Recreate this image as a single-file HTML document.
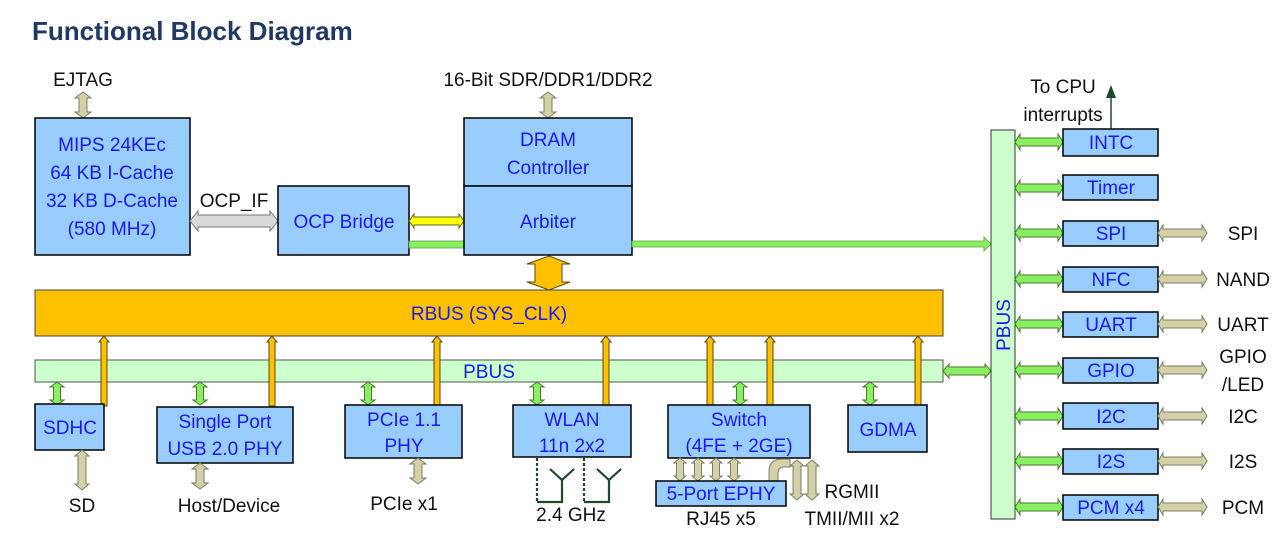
<!DOCTYPE html>
<html><head><meta charset="utf-8"><style>
html,body{margin:0;padding:0;background:#fff;}
svg{display:block;font-family:"Liberation Sans",sans-serif;}
.b{fill:#99ccff;stroke:#000;stroke-width:1.5}
.t{fill:#1a1aee;font-size:19px;text-anchor:middle}
.k{fill:#111;font-size:19px;text-anchor:middle}
.tan{fill:#d4d0a8;stroke:#7d7d66;stroke-width:1}
.grn{fill:#88f060;stroke:#4a7a30;stroke-width:1}
.org{fill:#ffc000;stroke:#5a4a10;stroke-width:1}
</style></head><body>
<svg width="1287" height="534" viewBox="0 0 1287 534" xmlns="http://www.w3.org/2000/svg">
<defs>
<polygon id="gh" class="grn" points="0,0 5,-8 5,-4 43,-4 43,-8 48,0 43,8 43,4 5,4 5,8"/>
<polygon id="th" class="tan" points="0,0 5,-8 5,-4 44,-4 44,-8 49,0 44,8 44,4 5,4 5,8"/>
<polygon id="gv" class="grn" points="0,0 -7,5 -3.5,5 -3.5,18 -7,18 0,23 7,18 3.5,18 3.5,5 7,5"/>
<polygon id="ov" class="org" points="0,0 -5,6 -3,6 -3,70 3,70 3,6 5,6"/>
<polygon id="tv" class="tan" points="0,0 -8,6 -4,6 -4,20 -8,20 0,26 8,20 4,20 4,6 8,6"/>
<polygon id="tv2" class="tan" points="0,0 -7,6 -4,6 -4,34 -7,34 0,40 7,34 4,34 4,6 7,6"/>
<polygon id="ts" class="tan" points="0,0 -6,5 -3.5,5 -3.5,18 -6,18 0,23 6,18 3.5,18 3.5,5 6,5"/>
</defs>

<text x="32" y="40" font-size="26" font-weight="bold" fill="#1f3864">Functional Block Diagram</text>

<text x="83" y="86" class="k">EJTAG</text>
<use href="#tv" x="83" y="92"/>
<text x="548" y="86" class="k">16-Bit SDR/DDR1/DDR2</text>
<use href="#tv" x="548" y="92"/>

<rect x="35" y="118" width="155" height="137" class="b"/>
<text x="112" y="151" class="t">MIPS 24KEc</text>
<text x="112" y="179" class="t">64 KB I-Cache</text>
<text x="112" y="207" class="t">32 KB D-Cache</text>
<text x="112" y="235" class="t">(580 MHz)</text>

<text x="234" y="207" class="k">OCP_IF</text>
<polygon fill="#d9d9d9" stroke="#777" points="190,221 198,211 198,215 270,215 270,211 278,221 270,231 270,227 198,227 198,231"/>

<rect x="278" y="186" width="131" height="69" class="b"/>
<text x="344" y="228" class="t">OCP Bridge</text>

<polygon fill="#ffff00" stroke="#5a6a20" points="409,221 414,214 414,217 459,217 459,214 464,221 459,228 459,225 414,225 414,228"/>
<rect x="409" y="241" width="55" height="7" fill="#88f060" stroke="#6a9a50" stroke-width="0.8"/>

<rect x="464" y="118" width="168" height="68" class="b"/>
<rect x="464" y="186" width="168" height="69" class="b"/>
<text x="548" y="146" class="t">DRAM</text>
<text x="548" y="174" class="t">Controller</text>
<text x="548" y="228" class="t">Arbiter</text>

<polygon fill="#88f060" stroke="#6a9a50" stroke-width="0.8" points="632,241 984,241 984,237 991,244 984,251 984,247 632,247"/>

<polygon class="org" points="549,256 570,264 562,264 562,282 570,282 549,290 527,282 535,282 535,264 527,264"/>

<rect x="35" y="290" width="908" height="46" fill="#ffc000" stroke="#444" stroke-width="1"/>
<text x="489" y="320" class="t">RBUS (SYS_CLK)</text>

<rect x="35" y="360" width="908" height="22" fill="#ccffcc" stroke="#555" stroke-width="1"/>
<use href="#ov" x="104" y="336"/>
<use href="#ov" x="272" y="336"/>
<use href="#ov" x="437" y="336"/>
<use href="#ov" x="606" y="336"/>
<use href="#ov" x="710" y="336"/>
<use href="#ov" x="770" y="336"/>
<use href="#ov" x="918" y="336"/>
<text x="489" y="378" class="t" font-size="18">PBUS</text>
<polygon class="grn" points="943,371 949,364 949,367 985,367 985,364 991,371 985,378 985,375 949,375 949,378"/>

<use href="#gv" x="57" y="382"/>
<use href="#gv" x="200" y="382"/>
<use href="#gv" x="368" y="382"/>
<use href="#gv" x="537" y="382"/>
<use href="#gv" x="740" y="382"/>
<use href="#gv" x="870" y="382"/>

<rect x="35" y="404" width="69" height="46" class="b"/>
<text x="70" y="434" class="t">SDHC</text>
<rect x="157" y="407" width="136" height="56" class="b"/>
<text x="225" y="428" class="t">Single Port</text>
<text x="225" y="455" class="t">USB 2.0 PHY</text>
<rect x="345" y="405" width="117" height="53" class="b"/>
<text x="404" y="426" class="t">PCIe 1.1</text>
<text x="404" y="452" class="t">PHY</text>
<rect x="513" y="405" width="118" height="52" class="b"/>
<text x="572" y="426" class="t">WLAN</text>
<text x="572" y="452" class="t">11n 2x2</text>
<rect x="668" y="405" width="142" height="53" class="b"/>
<text x="739" y="426" class="t">Switch</text>
<text x="739" y="452" class="t">(4FE + 2GE)</text>
<rect x="848" y="405" width="79" height="47" class="b"/>
<text x="888" y="436" class="t">GDMA</text>

<use href="#tv2" x="82" y="450"/>
<text x="82" y="512" class="k">SD</text>
<use href="#tv" x="200" y="463"/>
<text x="229" y="512" class="k">Host/Device</text>
<use href="#tv" x="418" y="458"/>
<text x="404" y="510" class="k">PCIe x1</text>

<g stroke="#1e4a2a" stroke-width="2.2" fill="none">
<line x1="537" y1="458" x2="537" y2="502" stroke-dasharray="3,2"/>
<polyline points="537,502 562,502 562,480"/>
<polyline points="550,469 562,480 574,469"/>
<line x1="584" y1="458" x2="584" y2="502" stroke-dasharray="3,2"/>
<polyline points="584,502 609,502 609,480"/>
<polyline points="597,469 609,480 621,469"/>
</g>
<text x="571" y="521" class="k">2.4 GHz</text>

<use href="#ts" x="680" y="458"/>
<use href="#ts" x="698" y="458"/>
<use href="#ts" x="716" y="458"/>
<use href="#ts" x="734" y="458"/>
<path d="M769,481 L769,472 Q769,459 782,459 L790,459 L790,467 L784,467 Q778,467 778,474 L778,481 Z" class="tan"/>
<use href="#tv2" x="797" y="460"/>
<use href="#tv2" x="812" y="460"/>
<rect x="656" y="481" width="130" height="25" class="b"/>
<text x="721" y="500" class="t">5-Port EPHY</text>
<text x="721" y="525" class="k">RJ45 x5</text>
<text x="852" y="498" class="k">RGMII</text>
<text x="852" y="525" class="k">TMII/MII x2</text>

<text x="1063" y="93" class="k" font-size="18">To CPU</text>
<text x="1063" y="121" class="k" font-size="18">interrupts</text>
<line x1="1111" y1="129" x2="1111" y2="96" stroke="#1e4a2a" stroke-width="1.5"/>
<polygon points="1111,85 1106,98 1116,98" fill="#1e4a2a"/>

<rect x="991" y="130" width="24" height="389" fill="#ccffcc" stroke="#333" stroke-width="1"/>
<text transform="translate(1010,325) rotate(-90)" class="t" font-size="18">PBUS</text>

<use href="#gh" x="1015" y="142"/>
<use href="#gh" x="1015" y="188"/>
<use href="#gh" x="1015" y="233"/>
<use href="#gh" x="1015" y="279"/>
<use href="#gh" x="1015" y="324"/>
<use href="#gh" x="1015" y="370"/>
<use href="#gh" x="1015" y="416"/>
<use href="#gh" x="1015" y="461"/>
<use href="#gh" x="1015" y="507"/>

<rect x="1063" y="129" width="95" height="27" class="b"/><text x="1111" y="149" class="t">INTC</text>
<rect x="1063" y="175" width="95" height="25" class="b"/><text x="1111" y="194" class="t">Timer</text>
<rect x="1063" y="221" width="95" height="25" class="b"/><text x="1111" y="240" class="t">SPI</text>
<rect x="1063" y="267" width="95" height="25" class="b"/><text x="1111" y="286" class="t">NFC</text>
<rect x="1063" y="312" width="95" height="25" class="b"/><text x="1111" y="331" class="t">UART</text>
<rect x="1063" y="358" width="95" height="25" class="b"/><text x="1111" y="377" class="t">GPIO</text>
<rect x="1063" y="403" width="95" height="26" class="b"/><text x="1111" y="423" class="t">I2C</text>
<rect x="1063" y="449" width="95" height="25" class="b"/><text x="1111" y="468" class="t">I2S</text>
<rect x="1063" y="495" width="95" height="25" class="b"/><text x="1111" y="514" class="t">PCM x4</text>

<use href="#th" x="1158" y="233"/>
<use href="#th" x="1158" y="279"/>
<use href="#th" x="1158" y="324"/>
<use href="#th" x="1158" y="370"/>
<use href="#th" x="1158" y="416"/>
<use href="#th" x="1158" y="461"/>
<use href="#th" x="1158" y="507"/>

<text x="1243" y="240" class="k">SPI</text>
<text x="1243" y="286" class="k">NAND</text>
<text x="1243" y="331" class="k">UART</text>
<text x="1243" y="363" class="k">GPIO</text>
<text x="1243" y="391" class="k">/LED</text>
<text x="1243" y="423" class="k">I2C</text>
<text x="1243" y="468" class="k">I2S</text>
<text x="1243" y="514" class="k">PCM</text>
</svg>
</body></html>
